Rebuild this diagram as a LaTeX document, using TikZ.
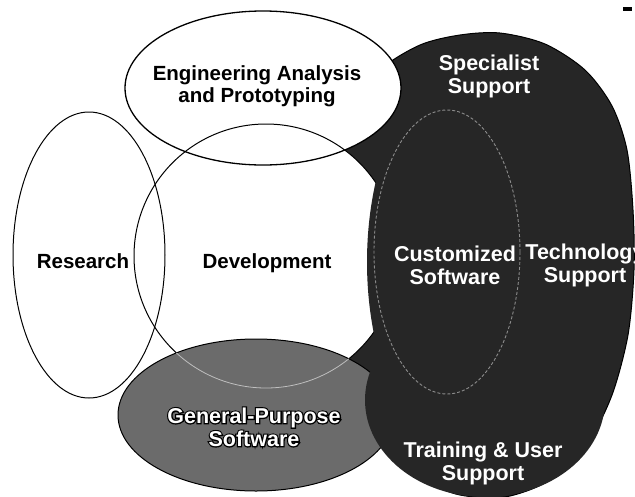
\documentclass[tikz,border=0pt]{standalone}
\usepackage{fontspec}
\setmainfont{Liberation Sans}
% white lettering over a stroked black copy, for labels on the grey field
\newcommand\rimtext[1]{\leavevmode
  \rlap{\color{black}\special{pdf:code 1 Tr 2.4 w}#1\special{pdf:code 0 Tr 1 w}}%
  {\color{white}#1}}
\begin{document}
\begin{tikzpicture}[x=1pt,y=-1pt,
  outline/.style={draw=black,line width=1pt},
  darkfill/.style={fill=black!85},
  grayfill/.style={fill=black!58},
  lbl/.style={font=\fontsize{20.5}{22.5}\selectfont\bfseries,align=center,inner sep=0pt},
  wlbl/.style={lbl,font=\fontsize{21.5}{23}\selectfont\bfseries,text=white},
]
\fill[white] (0,0) rectangle (635,496);
\useasboundingbox (0,0) rectangle (635,496);

% support region: outer dark outline (partly hidden by the white circles)
\filldraw[darkfill,draw=black,line width=1pt] plot[smooth cycle] coordinates {
  (500,33) (545,44) (585,70) (612,106) (627,150) (633,210) (634,270)
  (628,335) (612,395) (588,442) (550,480) (505,497) (460,495) (425,481)
  (397,460) (372,432) (348,398) (333,352) (328,290) (330,220) (336,160)
  (352,110) (380,70) (420,45) (460,35)};

% development circle and research ellipse
\fill[white] (266,256) circle [radius=132pt];
\draw[outline] (89,255) ellipse [x radius=76pt, y radius=143pt];
\draw[outline] (266,256) circle [radius=132pt];

% general-purpose software
\filldraw[grayfill,draw=black,line width=1pt] (256,415) ellipse [x radius=138pt, y radius=76pt];
\begin{scope}
  \clip (256,415) ellipse [x radius=138pt, y radius=76pt];
  \draw[black!25,line width=0.8pt] (266,256) circle [radius=132pt];
\end{scope}

% training & user support, technology support
\fill[darkfill] (485,400) ellipse [x radius=120pt, y radius=97pt];
\fill[darkfill] (500,262) ellipse [x radius=133pt, y radius=225pt];

% customized software
\draw[black!45,line width=0.9pt,dash pattern=on 3pt off 2pt] (447,252) ellipse [x radius=73pt, y radius=142pt];

% engineering analysis on top
\filldraw[fill=white,draw=black,line width=1.3pt] (263,88) ellipse [x radius=138pt, y radius=77pt];
\begin{scope}
  \clip (263,88) ellipse [x radius=138pt, y radius=77pt];
  \draw[outline] (266,256) circle [radius=132pt];
\end{scope}

% labels
\node[lbl] (eng) at (257,86) {Engineering Analysis\\and Prototyping};
\node[lbl] (res) at (83,261) {Research};
\node[lbl] (dev) at (267,263) {Development};
\node[wlbl] (spec) at (489,76) {Specialist\\Support};
\node[wlbl] (cust) at (455,265) {Customized\\Software};
\node[wlbl] (tech) at (585,265) {Technology\\Support};
\node[wlbl] (gps) at (254,427) {\rimtext{General-Purpose}\\\rimtext{Software}};
\node[wlbl] (train) at (483,463) {Training \& User\\Support};

% small mark in the corner
\fill[black] (623,7) rectangle (632,11);
\end{tikzpicture}
\end{document}
